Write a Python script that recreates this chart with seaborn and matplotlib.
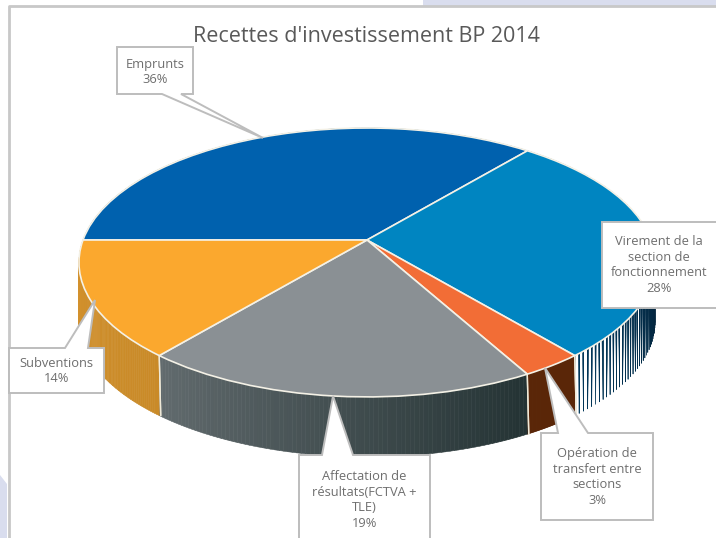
import numpy as np
import matplotlib
matplotlib.use("Agg")
import matplotlib.pyplot as plt
from matplotlib.collections import PolyCollection
from matplotlib.colors import to_rgb
from matplotlib.patches import Polygon, Rectangle
from matplotlib.transforms import Transform
import seaborn as sns

title = "Recettes d'investissement BP 2014"
categories = ["Emprunts", "Virement de la\nsection de\nfonctionnement",
              "Opération de\ntransfert entre\nsections",
              "Affectation de\nrésultats(FCTVA +\nTLE)", "Subventions"]
values = [36, 28, 3, 19, 14]
top_colors = ["#0061AE", "#0085C1", "#F26D36", "#8A9094", "#FBA82E"]
side_left = ["#003C6B", "#003A5E", "#5A2608", "#626B6E", "#D4922E"]
side_right = ["#003C6B", "#04263F", "#5A2608", "#243334", "#C98A28"]

# layout, in pixels of the picture
CX, CY, RX, RY, PERSP, DEPTH = 367, 240, 284, 130.7, 0.167, 60
boxes = [  # x0, y0, x1, y1, leader base side, base a, base b, tip x, tip y, text centre y
    (117, 47, 193, 94, "bottom", 162, 181, 263, 138, 72),
    (602, 222, 718, 308, None, 0, 0, 0, 0, 265),
    (541, 433, 653, 520, "top", 558, 588, 545, 368, 477),
    (299, 455, 430, 545, "top", 322, 353, 333, 396, 500),
    (9, 348, 104, 393, "top", 65, 88, 95, 300, 371),
]


class Perspective(Transform):
    input_dims = output_dims = 2

    def transform_non_affine(self, xy):
        xy = np.asarray(xy, float)
        w = 1 + PERSP * xy[:, 1]
        return np.column_stack([CX + RX * xy[:, 0] / w, CY - RY * xy[:, 1] / w])


sns.set_theme(style="white")
plt.rcParams["font.family"] = ["Open Sans", "DejaVu Sans"]
fig = plt.figure(figsize=(7.16, 5.38), dpi=100, facecolor="white")
ax = fig.add_axes([0, 0, 1, 1])

persp = Perspective()
wedges, _ = ax.pie(values, colors=sns.color_palette(top_colors), startangle=180,
                   counterclock=False, radius=1,
                   wedgeprops=dict(edgecolor="#F4F1E6", linewidth=1.2))
for w in wedges:
    w.set_transform(persp + ax.transData)
    w.set_zorder(4)

ax.set_aspect("auto")
ax.set_xlim(0, 716)
ax.set_ylim(538, 0)
ax.axis("off")

# frame and slide background
ax.add_patch(Rectangle((423, 0), 293, 6, fc="#D9DDEE", ec="none", zorder=0))
ax.add_patch(Polygon([(0, 475), (7, 484), (7, 538), (0, 538)], fc="#D9DDEE", ec="none", zorder=0))
ax.plot([9, 9, 716], [538, 6, 6], color="#C8C8C8", lw=2, zorder=1)

# side wall of the pie, computed from each wedge's angles
for w, c0, c1 in zip(wedges, side_left, side_right):
    th = np.radians(np.linspace(w.theta1, w.theta2, 90))
    rim = persp.transform_non_affine(np.column_stack([np.cos(th), np.sin(th)]))
    order = np.argsort(rim[:, 0])
    rim = rim[order]
    quads, cols = [], []
    a, b = np.array(to_rgb(c0)), np.array(to_rgb(c1))
    for i in range(len(rim) - 1):
        p, q = rim[i], rim[i + 1]
        quads.append([p, q, q + [0, DEPTH], p + [0, DEPTH]])
        f = i / (len(rim) - 2)
        cols.append(a + (b - a) * f)
    ax.add_collection(PolyCollection(quads, facecolors=cols, edgecolors=cols, linewidths=0.4, zorder=2))
    # divider at the slice's ends
    for th_e in (w.theta1, w.theta2):
        t = np.radians(th_e)
        e = persp.transform_non_affine(np.array([[np.cos(t), np.sin(t)]]))[0]
        if np.sin(t) < 0:
            ax.plot([e[0], e[0] + 1.5], [e[1], e[1] + DEPTH], color="#EFE9D8", lw=1, zorder=3)

# title
ax.text(366, 37, title, ha="center", va="center", fontsize=15.5, color="#595959", zorder=6)

# callout boxes and labels
for (x0, y0, x1, y1, side, a, b, tx, ty, tcy), cat, val in zip(boxes, categories, values):
    if side == "bottom":
        pts = [(x0, y0), (x1, y0), (x1, y1), (b, y1), (tx, ty), (a, y1), (x0, y1)]
    elif side == "top":
        pts = [(x0, y0), (a, y0), (tx, ty), (b, y0), (x1, y0), (x1, y1), (x0, y1)]
    else:
        pts = [(x0, y0), (x1, y0), (x1, y1), (x0, y1)]
    ax.add_patch(Polygon(pts, closed=True, fc="white", ec="#BDBDBD", lw=1.4, zorder=5))
    ax.text((x0 + min(x1, 716)) / 2, tcy, f"{cat}\n{val}%", ha="center", va="center",
            fontsize=9.3, color="#6E6E6E", linespacing=1.27, zorder=6)

fig.savefig("out.png", dpi=100)
